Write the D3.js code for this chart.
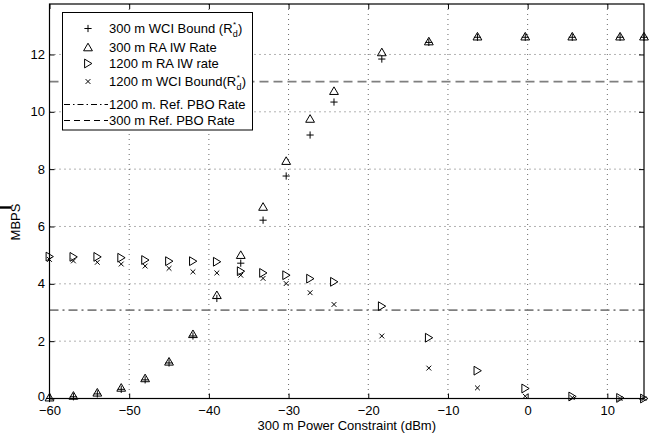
<!DOCTYPE html>
<html><head><meta charset="utf-8">
<script src="https://cdn.jsdelivr.net/npm/d3@7"></script>
<style>
html,body{margin:0;padding:0;background:#fff;}
svg{display:block;font-family:"Liberation Sans",Arial,Helvetica,sans-serif;}
</style></head><body>
<svg id="c" width="657" height="435"></svg>
<script>
// ---- data ----
const powerDBm = [-60,-57,-54,-51,-48,-45,-42,-39,-36,-33.2,-30.3,-27.3,-24.3,-18.3,-12.4,-6.3,-0.3,5.6,11.6,14.6];
const wci300 = [0.0,0.06,0.16,0.32,0.65,1.24,2.18,3.49,4.72,6.22,7.76,9.19,10.34,11.84,12.42,12.6,12.6,12.6,12.6,12.6];
const raiw300 = [0.03,0.09,0.2,0.37,0.7,1.28,2.24,3.6,5.0,6.68,8.28,9.75,10.72,12.07,12.45,12.62,12.62,12.62,12.62,12.62];
const raiw1200 = [4.95,4.94,4.94,4.91,4.83,4.79,4.79,4.77,4.44,4.38,4.30,4.18,4.07,3.22,2.12,0.97,0.35,0.07,0.02,0.0];
const wci1200 = [4.85,4.8,4.75,4.69,4.62,4.54,4.42,4.38,4.30,4.19,4.01,3.69,3.28,2.18,1.06,0.37,0.08,0.03,0.0,0.0];
const refPBO1200 = 3.08;
const refPBO300 = 11.05;
const xTicks = [-60,-50,-40,-30,-20,-10,0,10];
const yTicks = [0,2,4,6,8,10,12];
const xDomain = [-60,14.6];
const yDomain = [0,13.76];
const xLabel = "300 m Power Constraint (dBm)";
const yLabel = "MBPS";

// ---- layout ----
const L=49.5, R=644, T=4, B=398.5;
const svg = d3.select("#c");
const x = d3.scaleLinear().domain(xDomain).range([L,R]);
const y = d3.scaleLinear().domain(yDomain).range([B,T]);
const FS = 13;

// grid
const grid = svg.append("g").attr("stroke","#000").attr("stroke-width",0.8)
  .attr("stroke-dasharray","1,4").attr("opacity",0.75);
xTicks.forEach(v=>{ if(v>xDomain[0]) grid.append("line").attr("x1",x(v)).attr("x2",x(v)).attr("y1",T).attr("y2",B); });
yTicks.forEach(v=>{ if(v>yDomain[0]) grid.append("line").attr("x1",L).attr("x2",R).attr("y1",y(v)).attr("y2",y(v)); });

// axes with inward ticks
const ax = svg.append("g");
const xAxB = d3.axisBottom(x).tickValues(xTicks).tickSizeInner(-5).tickSizeOuter(0).tickPadding(7.4)
  .tickFormat(d=>d<0?"\u2212"+Math.abs(d):d);
const gxb = ax.append("g").attr("transform",`translate(0,${B})`).call(xAxB);
const gxt = ax.append("g").attr("transform",`translate(0,${T})`).call(d3.axisTop(x).tickValues(xTicks).tickSizeInner(-5).tickSizeOuter(0).tickFormat(""));
const gyl = ax.append("g").attr("transform",`translate(${L},0)`).call(d3.axisLeft(y).tickValues(yTicks).tickSizeInner(-5).tickSizeOuter(0).tickPadding(9));
const gyr = ax.append("g").attr("transform",`translate(${R},0)`).call(d3.axisRight(y).tickValues(yTicks).tickSizeInner(-5).tickSizeOuter(0).tickFormat(""));
[gxb,gxt,gyl,gyr].forEach(g=>{
  g.select(".domain").remove();
  g.selectAll("line").attr("stroke","#000");
  g.selectAll("text").attr("font-size",FS).attr("fill","#000").attr("font-family","Liberation Sans, Arial, sans-serif");
});
gyl.selectAll("text").attr("x",-4.5);
gyl.selectAll(".tick").filter(d=>d===0).select("text").attr("dy","0.12em");

// reference lines
svg.append("line").attr("x1",L).attr("x2",R).attr("y1",y(refPBO1200)).attr("y2",y(refPBO1200))
  .attr("stroke","#7f7f7f").attr("stroke-width",1.8).attr("stroke-dasharray","9,4,2,4");
svg.append("line").attr("x1",L).attr("x2",R).attr("y1",y(refPBO300)).attr("y2",y(refPBO300))
  .attr("stroke","#7f7f7f").attr("stroke-width",1.8).attr("stroke-dasharray","9,5");

// markers
const shapes = {
  plus: "M-3.6,0H3.6M0,-3.6V3.6",
  tri: "M0,-4.3L4.4,3.3L-4.4,3.3Z",
  rtri: "M-3.4,-4.4L3.9,0L-3.4,4.4Z",
  cross: "M-2.4,-2.4L2.4,2.4M-2.4,2.4L2.4,-2.4"
};
function drawSeries(vals, shape){
  svg.append("g").selectAll("path").data(vals.map((v,i)=>[powerDBm[i],v])).join("path")
    .attr("d",shapes[shape]).attr("transform",d=>`translate(${x(d[0])},${y(d[1])})`)
    .attr("fill","none").attr("stroke","#000").attr("stroke-width",1);
}
drawSeries(raiw300,"tri");
drawSeries(wci300,"plus");
drawSeries(raiw1200,"rtri");
drawSeries(wci1200,"cross");

// frame
svg.append("rect").attr("x",L).attr("y",T).attr("width",R-L).attr("height",B-T)
  .attr("fill","none").attr("stroke","#000").attr("stroke-width",1.2);

// labels
svg.append("text").attr("x",(L+R)/2).attr("y",429.5).attr("text-anchor","middle").attr("font-size",FS).text(xLabel);
svg.append("text").attr("transform","translate(20,222) rotate(-90)").attr("text-anchor","middle").attr("font-size",FS).text(yLabel);
svg.append("rect").attr("x",0).attr("y",206.3).attr("width",11).attr("height",2.4).attr("fill","#000");

// legend
const lg = svg.append("g");
lg.append("rect").attr("x",62.5).attr("y",12.5).attr("width",190).attr("height",117.5)
  .attr("fill","#fff").attr("stroke","#000").attr("stroke-width",1);
const legRows = [
  {type:"plus", y:28.5, text:"300 m WCI Bound (R", rd:true},
  {type:"tri", y:47.5, text:"300 m RA IW Rate"},
  {type:"rtri", y:63.5, text:"1200 m RA IW rate"},
  {type:"cross", y:81.5, text:"1200 m WCI Bound(R", rd:true},
  {type:"dashdot", y:104.5, text:"1200 m. Ref. PBO Rate"},
  {type:"dash", y:120.5, text:"300 m Ref. PBO Rate"}
];
const tx = 109;
legRows.forEach(r=>{
  if(r.type==="dashdot"||r.type==="dash"){
    lg.append("line").attr("x1",64).attr("x2",108).attr("y1",r.y).attr("y2",r.y)
      .attr("stroke","#000").attr("stroke-width",1)
      .attr("stroke-dasharray",r.type==="dash"?"6,4":"6,3,1.5,3");
  } else {
    lg.append("path").attr("d",shapes[r.type]).attr("transform",`translate(88,${r.y})`)
      .attr("fill","none").attr("stroke","#000").attr("stroke-width",1);
  }
  const t = lg.append("text").attr("x",tx).attr("y",r.y+4.5).attr("font-size",FS).text(r.text);
  if(r.rd){
    const w = t.node().getComputedTextLength();
    lg.append("text").attr("x",tx+w+0.5).attr("y",r.y-2).attr("font-size",8).text("*");
    lg.append("text").attr("x",tx+w+0.3).attr("y",r.y+8).attr("font-size",9).text("d");
    lg.append("text").attr("x",tx+w+5.5).attr("y",r.y+4.5).attr("font-size",FS).text(")");
  }
});
</script>
</body></html>
